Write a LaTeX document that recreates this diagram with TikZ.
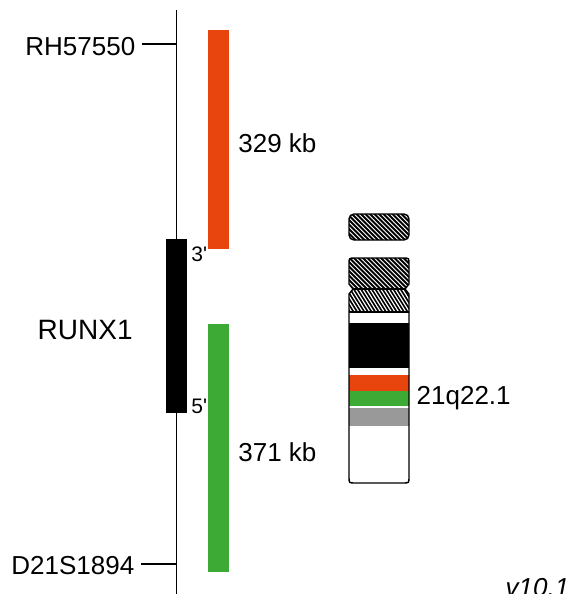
\documentclass[tikz,border=0pt]{standalone}
\usepackage{fontspec}
\setmainfont{Liberation Sans}
\usetikzlibrary{positioning}

\definecolor{segorange}{RGB}{232,68,14}
\definecolor{seggreen}{RGB}{60,170,53}
\definecolor{bandgray}{RGB}{153,153,153}

% outline of chromosome 21 below the satellite, pinched at the centromere
\newcommand\chrbody{(353,289) -- (349,284) -- (349,264) .. controls (349,258) .. (355,258) -- (403,258) .. controls (409,258) .. (409,264) -- (409,284) -- (405,289) -- (409,294) -- (409,477) .. controls (409,483) .. (403,483) -- (355,483) .. controls (349,483) .. (349,477) -- (349,294) -- cycle}

\begin{document}
\begin{tikzpicture}[x=1pt, y=-1pt, line width=1.4pt,
  bar/.style={rectangle, inner sep=0pt, minimum width=21pt},
  lbl/.style={inner sep=0pt, font=\fontsize{26}{30}\selectfont},
  prime/.style={inner sep=0pt, font=\fontsize{21}{24}\selectfont},
  hatchline/.style={line width=1.9pt}]
  \useasboundingbox (0,0) rectangle (574,594);

  % map axis with its two markers
  \coordinate (axtop) at (176.5,10);
  \coordinate (axbot) at (176.5,600);
  \draw (axtop) -- (axbot);
  \coordinate (rhtick) at (176.5,44);
  \coordinate (rhend) at (142,44);
  \coordinate (dtick) at (176.5,564);
  \coordinate (dend) at (141,564);
  \node[lbl, left=6pt of rhend, yshift=-3pt] (rh) {RH57550};
  \node[lbl, left=6pt of dend, yshift=-2pt] (d21) {D21S1894};
  \draw (rhend) -- (rhtick);
  \draw (dend) -- (dtick);

  % gene and the two probes
  \node[bar, fill=black, minimum height=174pt] (runx) at (176.5,326) {};
  \node[bar, fill=segorange, minimum height=219pt] (orange) at (218.5,139.5) {};
  \node[bar, fill=seggreen, minimum height=248pt] (green) at (218.5,448) {};
  \node[lbl, font=\fontsize{28}{32}\selectfont, left=32pt of runx, yshift=-4pt] (name) {RUNX1};
  \node[prime, anchor=north west] (p3) at ([xshift=3pt, yshift=-8pt]runx.north east) {3\textquotesingle};
  \node[prime, anchor=south west] (p5) at ([xshift=3pt, yshift=-1pt]runx.south east) {5\textquotesingle};
  \node[lbl, right=8pt of orange, yshift=-4pt] (size1) {329 kb};
  \node[lbl, right=8pt of green, yshift=-4pt] (size2) {371 kb};

  % ideogram: satellite
  \begin{scope}
    \clip[rounded corners=5pt] (349,214) rectangle (409,240);
    \foreach \x in {280,284.5,...,420}
      \draw[hatchline] (\x,205) -- ++(45,45);
  \end{scope}
  \draw[rounded corners=5pt] (349,214) rectangle (409,240);

  % ideogram: arms and bands
  \begin{scope}
    \clip \chrbody;
    \fill[white] (340,250) rectangle (420,490);
    \begin{scope}
      \clip (340,250) rectangle (420,289);
      \foreach \x in {260,264.5,...,420}
        \draw[hatchline] (\x,245) -- ++(50,50);
    \end{scope}
    \begin{scope}
      \clip (340,289) rectangle (420,312);
      \foreach \x in {290,293.6,...,420}
        \draw[hatchline, line width=1.6pt] (\x,285) -- ++(20,32);
    \end{scope}
    \fill[black] (340,323) rectangle (420,368);
    \fill[segorange] (340,375) rectangle (420,391);
    \fill[seggreen] (340,391) rectangle (420,406);
    \fill[bandgray] (340,408) rectangle (420,426);
    \draw (340,289) -- (420,289);
    \draw (340,312) -- (420,312);
  \end{scope}
  \draw \chrbody;
  \node[lbl, anchor=base west] (band) at (416,404) {21q22.1};

  \node[lbl, font=\fontsize{26}{30}\selectfont\itshape, anchor=base west] (ver) at (505,596) {v10.1};
\end{tikzpicture}
\end{document}
